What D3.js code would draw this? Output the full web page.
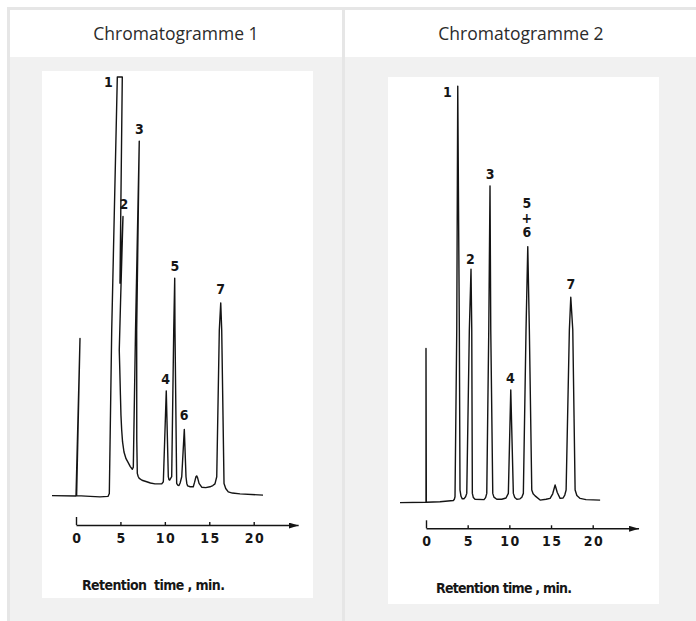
<!DOCTYPE html>
<html>
<head>
<meta charset="utf-8">
<script src="https://cdn.jsdelivr.net/npm/d3@7"></script>
<style>
body { margin: 0; background: #fff; }
svg { display: block; }
.head { font-family: "Open Sans", sans-serif; font-size: 17.5px; fill: #2b2b2b; }
.scan text { font-family: "Liberation Sans Narrow", "DejaVu Sans Condensed", sans-serif; font-weight: bold; fill: #161616; }
</style>
</head>
<body>
<script>
// column titles
var titles = ["Chromatogramme 1", "Chromatogramme 2"];
var axisTicks = [0, 5, 10, 15, 20];
var axisTitles = ["Retention  time , min.", "Retention time , min."];

// detector trace: [retention time (min), signal (% full scale)]
var trace1 = [
    [-2.7, 0.1], [0, 0], [0.45, 37.6], [0.07, 0.1], [1.6, -0.1], [2.7, -0.2], [3.6, -0.1],
    [3.75, 0.6], [4.02, 39.6], [4.65, 100], [5.21, 100], [4.95, 50.8], [5.29, 66.7],
    [5.02, 46.8], [4.87, 34.8], [4.93, 30.1], [5.00, 24.1], [5.06, 19.3], [5.14, 15.8],
    [5.24, 12.9], [5.40, 10.5], [5.63, 8.9], [5.89, 7.9], [6.11, 7.0], [6.34, 6.4],
    [6.45, 6.9], [6.70, 39.6], [7.12, 84.7], [6.83, 39.6], [6.84, 13.4], [6.90, 5.4],
    [7.00, 4.65], [7.12, 4.2], [7.43, 3.75], [7.96, 3.4], [8.38, 3.1], [8.89, 2.9],
    [9.65, 2.9], [9.83, 3.4], [10.16, 25.1], [10.39, 4.6], [10.46, 3.9], [10.54, 3.8],
    [10.62, 4.1], [10.77, 4.6], [11.00, 39.6], [11.11, 52.0], [11.14, 39.6], [11.33, 3.0],
    [11.45, 2.6], [11.59, 2.5], [11.72, 3.1], [11.90, 4.6], [12.19, 15.9], [12.38, 4.6],
    [12.47, 3.0], [12.57, 2.4], [12.85, 2.2], [13.20, 2.2], [13.35, 3.3], [13.50, 4.6],
    [13.58, 4.8], [13.68, 4.4], [13.85, 3.0], [14.15, 2.1], [14.60, 2.0], [15.08, 2.2],
    [15.40, 2.5], [15.64, 2.9], [15.84, 4.6], [16.13, 39.6], [16.29, 46.1], [16.40, 39.6],
    [16.66, 3.0], [16.85, 1.8], [17.14, 1.0], [17.60, 0.7], [18.46, 0.5], [21.05, 0.2]
];
var trace2 = [
    [-3.12, -0.5], [0, -0.4], [0, 36.3], [0.04, -0.4], [1.68, -0.3], [3.28, 0], [3.40, 0.3],
    [3.48, 0.9], [3.69, 40.7], [3.81, 98.9], [4.00, 40.7], [4.08, 2.5], [4.20, 1.0],
    [4.35, 0.4], [4.55, 0.4], [4.75, 0.9], [4.89, 1.7], [5.20, 40.7], [5.40, 55.2],
    [5.49, 40.7], [5.56, 1.7], [5.68, 0.7], [5.88, 0.3], [6.96, 0.2], [7.15, 0.7],
    [7.29, 1.7], [7.53, 40.7], [7.68, 75.1], [7.77, 40.7], [8.01, 1.7], [8.15, 0.8],
    [8.49, 0.3], [9.09, 0.3], [9.60, 0.6], [9.88, 1.7], [10.17, 26.4], [10.48, 1.7],
    [10.65, 0.7], [10.89, 0.3], [11.28, 0.4], [11.50, 0.8], [11.68, 1.7], [12.00, 40.7],
    [12.21, 60.6], [12.40, 40.7], [12.69, 2.5], [12.85, 1.6], [13.09, 1.1], [13.69, 0.1],
    [14.40, 0.3], [14.89, 0.5], [15.20, 1.6], [15.49, 3.7], [15.75, 1.9], [16.09, 0.5],
    [16.45, 0.6], [16.65, 1.3], [16.81, 2.5], [17.20, 40.7], [17.37, 48.5], [17.61, 40.7],
    [17.89, 2.5], [18.10, 1.2], [18.49, 0.5], [19.20, 0.2], [20.89, 0.1]
];

// peak numbers and where their first line is written: [lines, time, signal]
var peaks1 = [[["1"], 3.64, 98.7], [["2"], 5.40, 69.7], [["3"], 7.12, 87.5], [["4"], 10.10, 27.9],
              [["5"], 11.14, 55.0], [["6"], 12.16, 19.3], [["7"], 16.29, 49.3]];
var peaks2 = [[["1"], 2.56, 97.4], [["2"], 5.32, 57.7], [["3"], 7.68, 77.9], [["4"], 10.12, 29.3],
              [["5", "+", "6"], 12.09, 70.9], [["7"], 17.37, 51.7]];

var width = 696, height = 621;

var svg = d3.select("body").append("svg")
    .attr("width", width)
    .attr("height", height);

//table frame
svg.append("rect").attr("width", width).attr("height", height).attr("fill", "#fff");
svg.append("rect").attr("x", 7).attr("y", 7).attr("width", 700).attr("height", 620).attr("fill", "#e6e6e6");
var cols = [{x: 10, w: 332}, {x: 345, w: 352}];
cols.forEach(function(c, i){
    svg.append("rect").attr("x", c.x).attr("y", 10).attr("width", c.w).attr("height", 47).attr("fill", "#fff");
    svg.append("rect").attr("x", c.x).attr("y", 57).attr("width", c.w).attr("height", 570).attr("fill", "#f1f1f1");
    svg.append("text").attr("class", "head")
        .attr("x", c.x + (i == 0 ? 166 : 176)).attr("y", 39.5)
        .attr("text-anchor", "middle")
        .text(titles[i]);
});

//the two scanned chromatograms
drawChart({
    id: 1, panel: [42, 71, 271, 527],
    trace: trace1, peaks: peaks1,
    xRange: [76, 253.7], yRange: [496, 77],
    axisY: 525, axisEnd: 25,
    title: axisTitles[0], titleX: 82, titleY: 590, titleW: 143
});
drawChart({
    id: 2, panel: [388, 77, 271, 527],
    trace: trace2, peaks: peaks2,
    xRange: [426, 592.7], yRange: [500.5, 81.5],
    axisY: 528.3, axisEnd: 25.5,
    title: axisTitles[1], titleX: 436, titleY: 592.5, titleW: 136
});

function drawChart(c){
    var g = svg.append("g").attr("class", "scan");

    g.append("rect")
        .attr("x", c.panel[0]).attr("y", c.panel[1])
        .attr("width", c.panel[2]).attr("height", c.panel[3])
        .attr("fill", "#fff");

    var x = d3.scaleLinear().domain([0, 20]).range(c.xRange),
        y = d3.scaleLinear().domain([0, 100]).range(c.yRange);

    var line = d3.line()
        .x(function(d){ return x(d[0]); })
        .y(function(d){ return y(d[1]); });

    g.append("path")
        .datum(c.trace)
        .attr("d", line)
        .attr("fill", "none")
        .attr("stroke", "#141414")
        .attr("stroke-width", 1.4)
        .attr("stroke-linejoin", "round");

    //peak numbers (one text per peak, stacked lines for co-eluting peaks)
    var labels = g.selectAll(".peak")
        .data(c.peaks)
        .enter()
        .append("text")
        .attr("class", "peak")
        .attr("x", function(d){ return x(d[1]); })
        .attr("y", function(d){ return y(d[2]) + 5; })
        .attr("text-anchor", "middle")
        .attr("font-size", 14);
    labels.selectAll("tspan")
        .data(function(d){ return d[0].map(function(s){ return {s: s, x: x(d[1])}; }); })
        .enter()
        .append("tspan")
        .attr("x", function(d){ return d.x; })
        .attr("dy", function(d, i){ return i == 0 ? 0 : 14.5; })
        .text(function(d){ return d.s; });

    //arrow for the time axis
    svg.append("defs").append("marker")
        .attr("id", "arrow" + c.id)
        .attr("viewBox", "0 0 10 6")
        .attr("refX", 10).attr("refY", 3)
        .attr("markerWidth", 10).attr("markerHeight", 6)
        .attr("markerUnits", "userSpaceOnUse")
        .attr("orient", "auto")
        .append("path")
        .attr("d", "M0,0L10,3L0,6Z")
        .attr("fill", "#141414");

    var xAxisScale = d3.scaleLinear()
        .domain([0, c.axisEnd])
        .range([x(0), x(c.axisEnd)]);

    var axis = g.append("g")
        .attr("transform", "translate(0," + c.axisY + ")")
        .call(d3.axisBottom(xAxisScale)
            .tickValues(axisTicks)
            .tickSizeInner(-3)
            .tickSizeOuter(0)
            .tickPadding(8)
            .tickFormat(d3.format("d")));

    axis.select(".domain")
        .attr("stroke", "#141414")
        .attr("stroke-width", 1.4)
        .attr("marker-end", "url(#arrow" + c.id + ")");
    axis.selectAll(".tick line")
        .attr("stroke", "#141414")
        .attr("stroke-width", 1.4)
        .attr("y2", function(d){ return d === 0 ? -8 : -3; });
    axis.selectAll(".tick text")
        .attr("fill", "#161616")
        .attr("font-size", 14)
        .attr("letter-spacing", 1.5)
        .attr("dx", 0.75);
    axis.attr("font-family", null).attr("font-size", null);

    g.append("text")
        .attr("x", c.titleX).attr("y", c.titleY)
        .attr("font-size", 14)
        .attr("xml:space", "preserve")
        .style("white-space", "pre")
        .attr("textLength", c.titleW)
        .attr("lengthAdjust", "spacing")
        .text(c.title);
}
</script>
</body>
</html>
